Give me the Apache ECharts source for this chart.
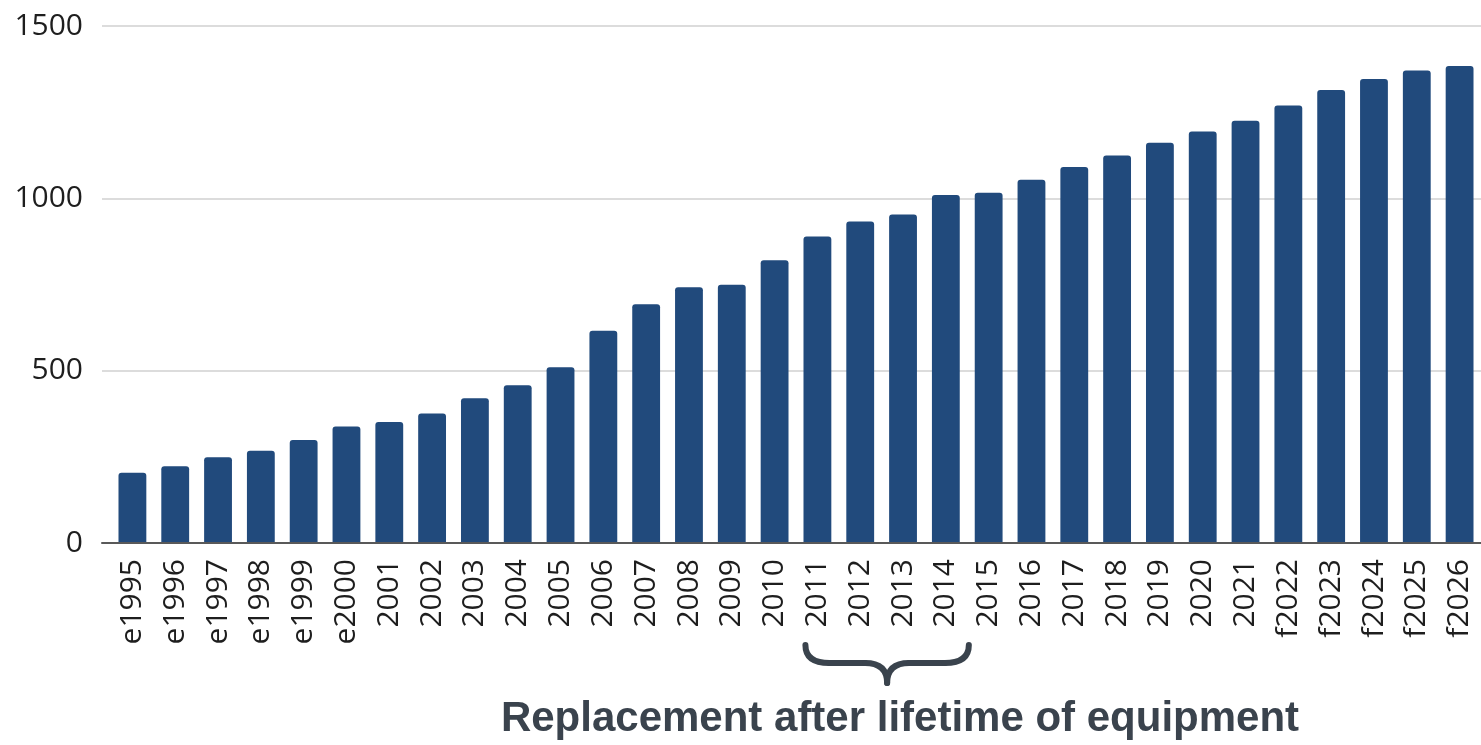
<!DOCTYPE html>
<html>
<head>
<meta charset="utf-8">
<script src="https://cdn.jsdelivr.net/npm/echarts@6/dist/echarts.min.js"></script>
<style>
html,body{margin:0;padding:0;background:#fff;}
#c{width:1481px;height:745px;}
</style>
</head>
<body>
<div id="c"></div>
<script>
const categories = ['e1995','e1996','e1997','e1998','e1999','e2000','2001','2002','2003','2004','2005','2006','2007','2008','2009','2010','2011','2012','2013','2014','2015','2016','2017','2018','2019','2020','2021','f2022','f2023','f2024','f2025','f2026'];
const values = [204,223,249,268,299,338,351,376,420,458,510,616,693,742,749,820,889,933,953,1010,1016,1054,1091,1124,1161,1194,1225,1269,1314,1346,1371,1384];
const yTicks = [0,500,1000,1500];
const annotation = 'Replacement after lifetime of equipment';
const braceFrom = '2011';
const braceTo = '2014';

const chart = echarts.init(document.getElementById('c'), null, {renderer:'canvas'});
const labelFont = '"Open Sans", sans-serif';
const dark = '#3a434d';

chart.setOption({
  animation:false,
  backgroundColor:'#ffffff',
  grid:[
    {left:111, width:1377, top:26, height:517},
    {left:102, right:0, top:26, height:517}
  ],
  xAxis:[
    {type:'category', gridIndex:0, data:categories, boundaryGap:true,
     axisLine:{show:false}, axisTick:{show:false},
     axisLabel:{rotate:90, margin:16, interval:0, fontSize:30, fontFamily:labelFont, color:'#1e1e1e'}},
    {type:'value', gridIndex:1, min:0, max:1, show:true, z:5,
     axisLine:{show:true, lineStyle:{color:'#595959', width:2}},
     axisTick:{show:false}, axisLabel:{show:false}, splitLine:{show:false}}
  ],
  yAxis:[
    {type:'value', gridIndex:0, min:yTicks[0], max:yTicks[yTicks.length-1], interval:500, show:false, splitLine:{show:false}},
    {type:'value', gridIndex:1, min:yTicks[0], max:yTicks[yTicks.length-1], interval:500,
     axisLine:{show:false}, axisTick:{show:false},
     axisLabel:{margin:19, fontSize:30, fontFamily:labelFont, color:'#1e1e1e', formatter:(v)=>String(v)},
     splitLine:{show:true, lineStyle:{color:'#d0d0d0', width:1.5}}}
  ],
  series:[{
    type:'bar', xAxisIndex:0, yAxisIndex:0, data:values,
    barCategoryGap:'35%', z:3,
    itemStyle:{color:'#214a7c', borderRadius:[3,3,0,0]}
  }]
});

// brace under selected categories, positioned through the axis scale
const xa = chart.convertToPixel({xAxisIndex:0}, braceFrom);
const xb = chart.convertToPixel({xAxisIndex:0}, braceTo);
const L = xa - 12, R = xb + 23, M = (L + R) / 2;
const yTop = 645, yMid = 663, yTip = 683;
const bs = {fill:null, stroke:dark, lineWidth:6, lineCap:'round', lineJoin:'round'};

chart.setOption({
  graphic:[
    {type:'bezierCurve', shape:{x1:L, y1:yTop, cpx1:L, cpy1:yMid, x2:L+24, y2:yMid}, style:bs},
    {type:'line', shape:{x1:L+24, y1:yMid, x2:M-22, y2:yMid}, style:bs},
    {type:'bezierCurve', shape:{x1:M-22, y1:yMid, cpx1:M, cpy1:yMid, x2:M, y2:yTip}, style:bs},
    {type:'bezierCurve', shape:{x1:M, y1:yTip, cpx1:M, cpy1:yMid, x2:M+22, y2:yMid}, style:bs},
    {type:'line', shape:{x1:M+22, y1:yMid, x2:R-24, y2:yMid}, style:bs},
    {type:'bezierCurve', shape:{x1:R-24, y1:yMid, cpx1:R, cpy1:yMid, x2:R, y2:yTop}, style:bs},
    {type:'text', x:900, y:719, style:{text:annotation, fill:dark, font:'bold 42px "Liberation Sans", Arial, sans-serif', textAlign:'center', textVerticalAlign:'middle'}}
  ]
});
</script>
</body>
</html>
